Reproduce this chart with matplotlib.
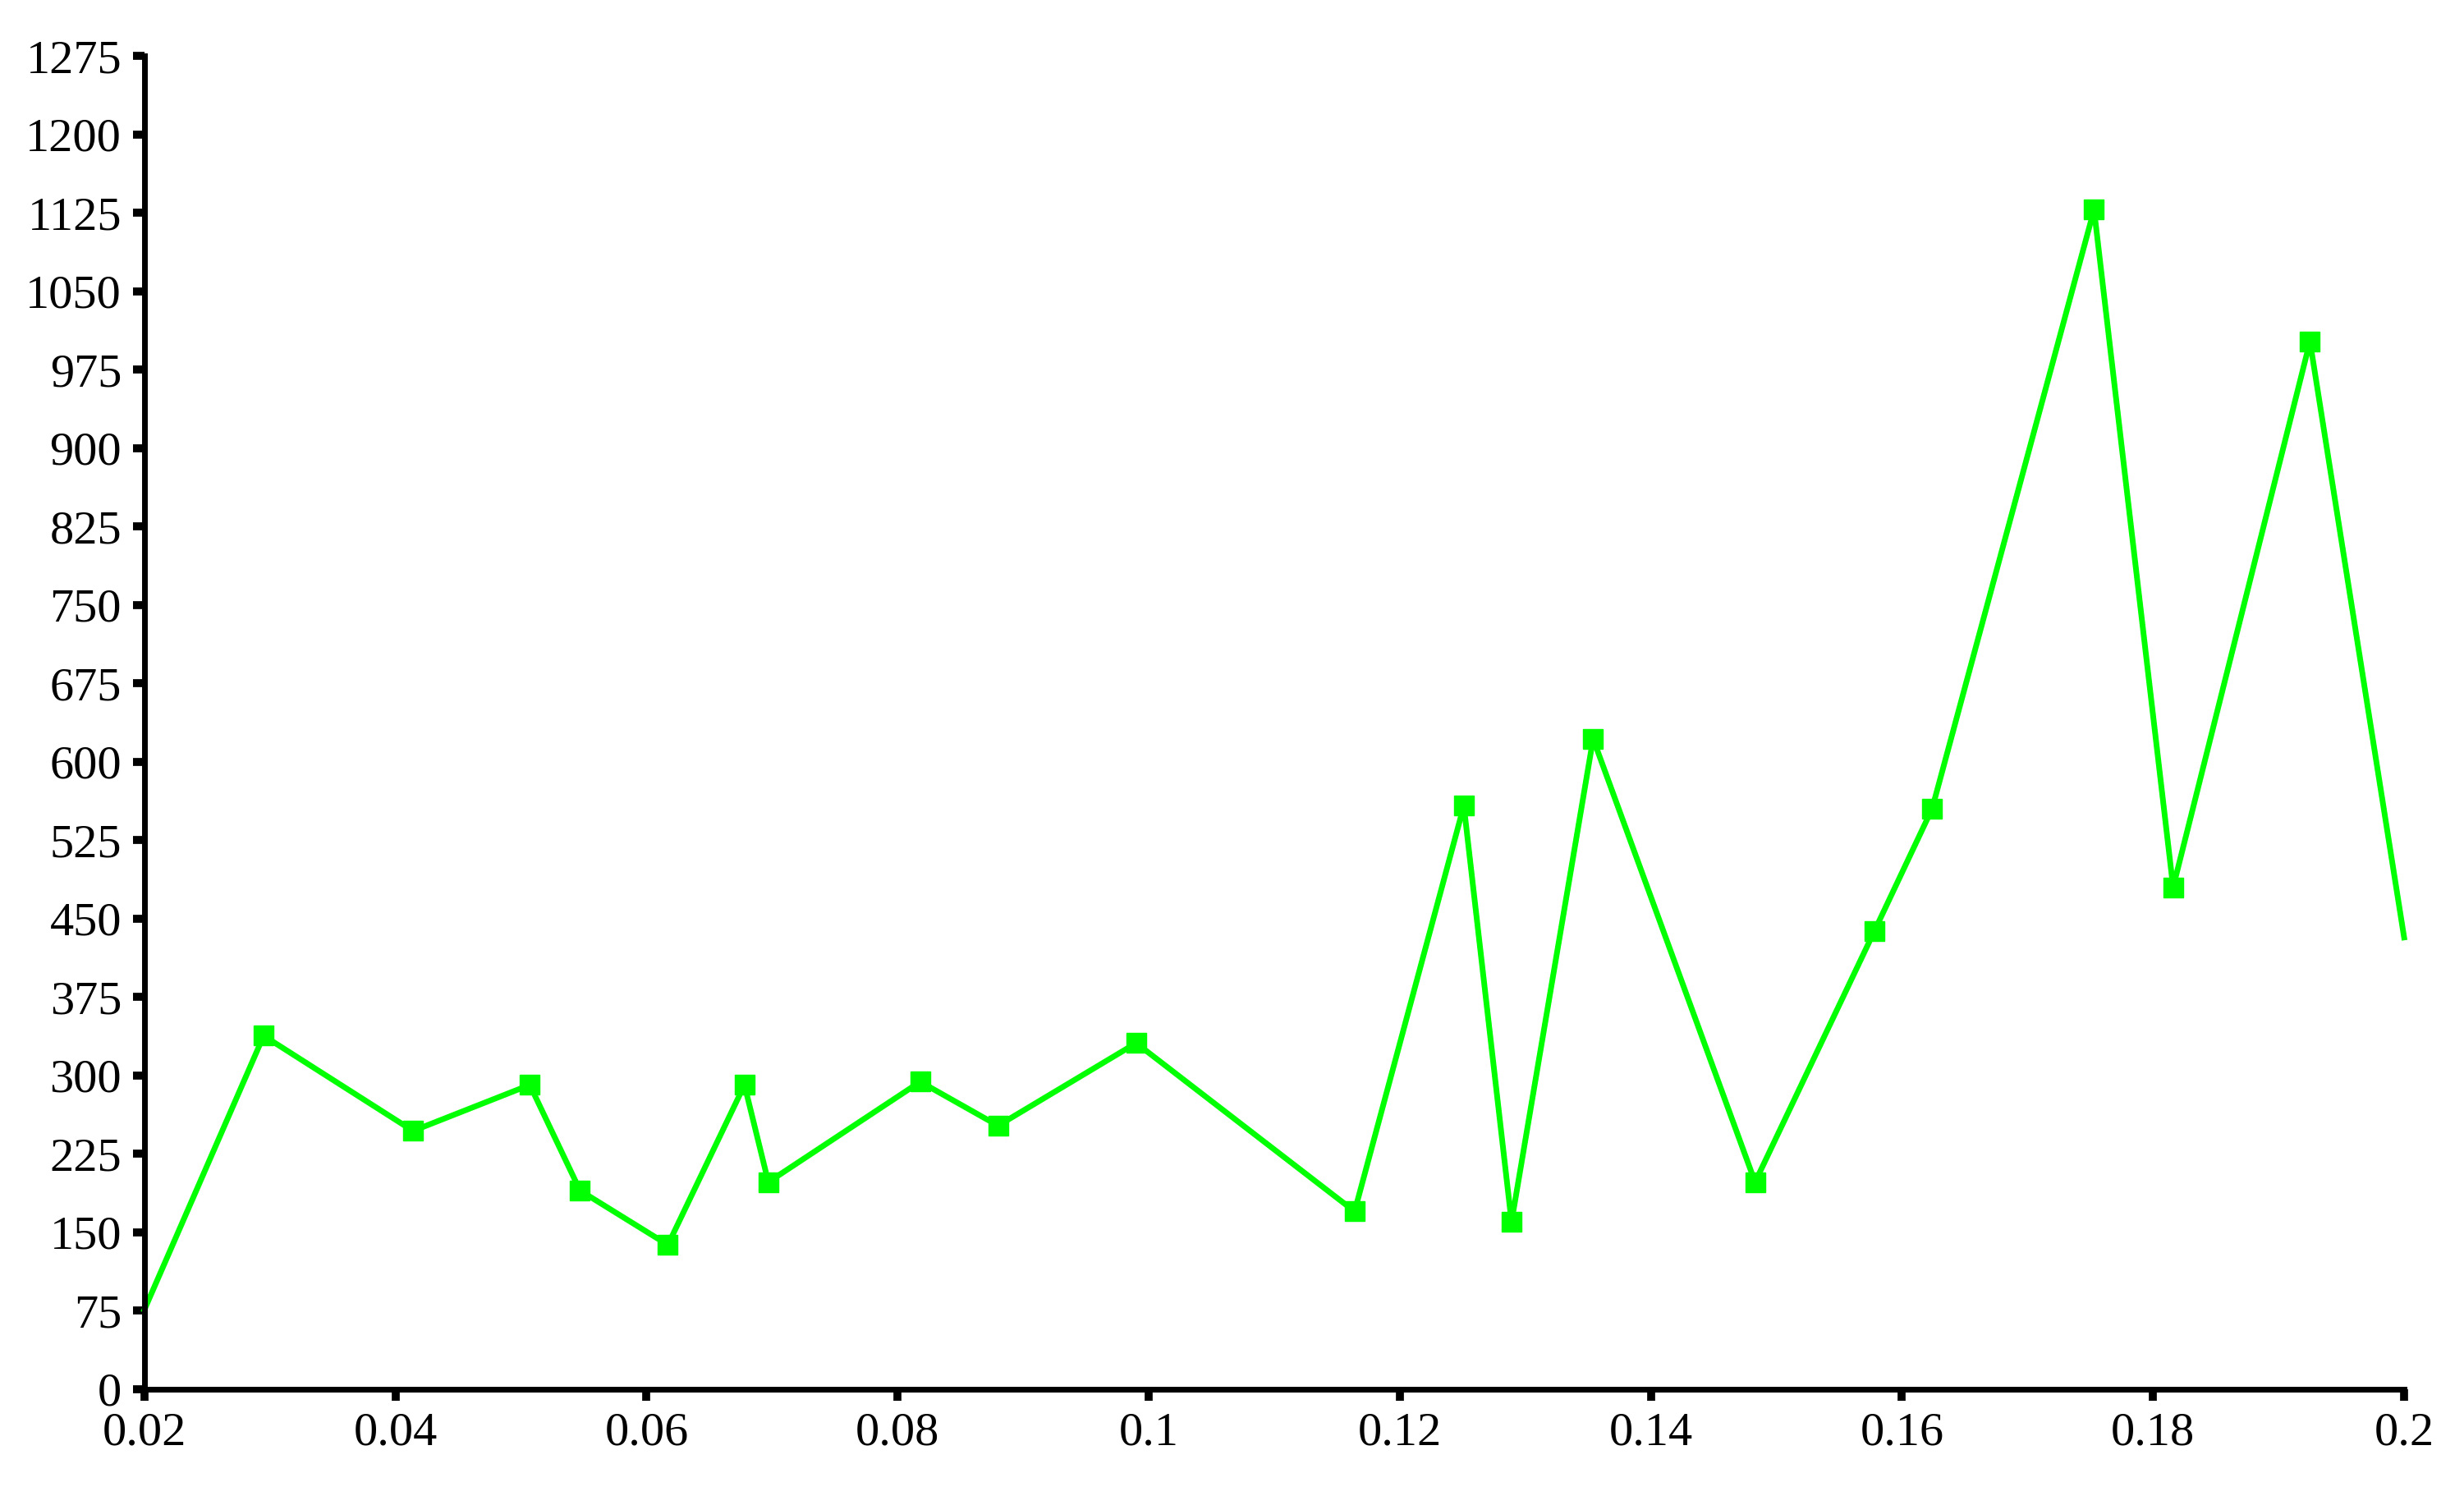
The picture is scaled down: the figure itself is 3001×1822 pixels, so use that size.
import matplotlib
matplotlib.use("Agg")
import matplotlib.pyplot as plt
from matplotlib.ticker import FuncFormatter, MultipleLocator

# values
x_vals = [0.02, 0.0295, 0.0414, 0.0507, 0.0547, 0.0617, 0.0678, 0.0697, 0.0818,
          0.0880, 0.0990, 0.1164, 0.1251, 0.1289, 0.1354, 0.1483, 0.1578, 0.1624,
          0.1753, 0.1816, 0.1925, 0.2]
y_vals = [76, 338, 247, 291, 190, 138, 291, 198, 294,
          252, 331, 170, 558, 160, 622, 198, 438, 555,
          1128, 480, 1002, 432]

x_ticks = [0.02, 0.04, 0.06, 0.08, 0.1, 0.12, 0.14, 0.16, 0.18, 0.2]

plt.rcParams["font.family"] = ["Liberation Serif", "DejaVu Serif"]

fig = plt.figure(figsize=(30.01, 18.22), dpi=100)
ax = fig.add_axes([0.0586, 0.0714, 0.9171, 0.8912])

# line over the whole range, markers only on the inner points
ax.plot(x_vals, y_vals, color="#00ff00", linewidth=5,
        marker="s", markersize=17, markevery=list(range(1, len(x_vals) - 1)),
        clip_on=False)

ax.set_xlim(0.02, 0.2)
ax.set_ylim(0, 1275)
ax.set_xticks(x_ticks)
ax.xaxis.set_major_formatter(FuncFormatter(lambda v, p: "%g" % round(v, 4)))
ax.yaxis.set_major_locator(MultipleLocator(75))

for side in ("top", "right"):
    ax.spines[side].set_visible(False)
for side in ("left", "bottom"):
    ax.spines[side].set_linewidth(5)

ax.tick_params(axis="both", direction="out", length=10, width=7, labelsize=42, pad=10)

fig.savefig("out.png", dpi=100, facecolor="white")
